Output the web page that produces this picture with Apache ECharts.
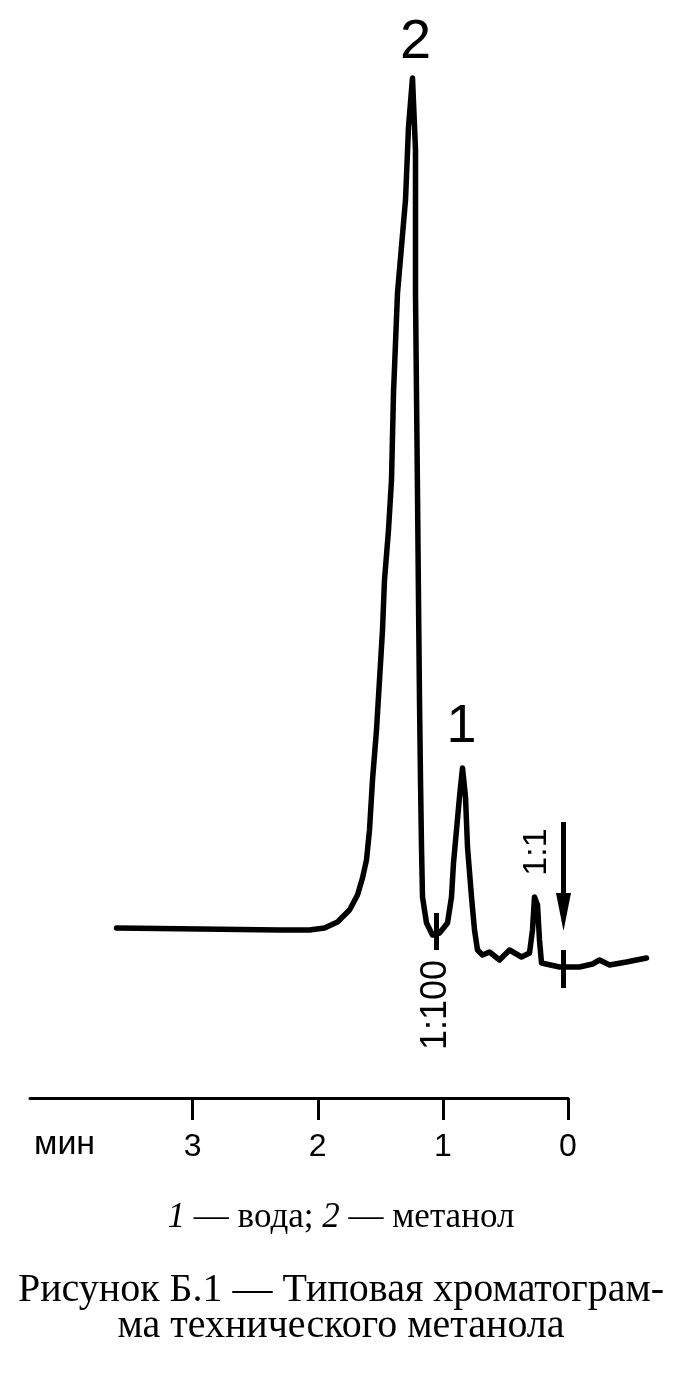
<!DOCTYPE html>
<html>
<head>
<meta charset="utf-8">
<script src="https://cdn.jsdelivr.net/npm/echarts@6/dist/echarts.min.js"></script>
<style>
  html, body { margin: 0; padding: 0; background: #fff; }
  #chart { width: 697px; height: 1382px; }
</style>
</head>
<body>
<div id="chart"></div>
<script>
// Retention time, min (axis runs right-to-left: 0 at right)
const timeMin = [3.608, 2.944, 2.304, 2.064, 1.944, 1.840, 1.744, 1.680, 1.640, 1.608,
  1.584, 1.560, 1.528, 1.504, 1.480, 1.464, 1.432, 1.408, 1.392, 1.360,
  1.296, 1.272, 1.240, 1.216, 1.216, 1.208, 1.200, 1.192, 1.184, 1.176,
  1.168, 1.160, 1.128, 1.080, 1.024, 0.960, 0.928, 0.912, 0.888, 0.864,
  0.840, 0.816, 0.800, 0.768, 0.744, 0.720, 0.680, 0.624, 0.544, 0.464,
  0.368, 0.304, 0.280, 0.264, 0.240, 0.224, 0.208, 0.064, -0.096, -0.200,
  -0.256, -0.336, -0.472, -0.632];
// Detector signal, arbitrary units
const signal = [17.0, 16.9, 16.8, 16.8, 17.0, 17.6, 18.8, 20.3, 22.0, 23.8,
  26.8, 31.8, 36.8, 41.8, 46.8, 51.8, 56.8, 61.8, 70.5, 80.5,
  89.8, 97.1, 102.0, 94.8, 80.5, 70.5, 60.5, 49.8, 39.8, 31.8,
  25.1, 20.1, 17.5, 16.3, 16.5, 17.5, 20.1, 23.5, 26.8, 30.1,
  33.0, 30.1, 25.1, 20.1, 16.8, 14.8, 14.3, 14.6, 13.8, 14.8,
  14.1, 14.5, 16.8, 20.1, 19.3, 15.8, 13.5, 13.1, 13.1, 13.4,
  13.8, 13.3, 13.6, 14.0];
const xTicks = [0, 1, 2, 3];
const axisUnit = 'мин';
// Peak labels
const peakNames = ['2', '1'];
const peakTimes = [1.240, 0.840];
const peakSignals = [102.0, 33.0];
// Attenuation marks
const attenNames = ['1:100', '1:1'];
const attenTimes = [1.048, 0.248];
const attenLabelSignals = [9.3, 24.6];
const attenTickTimes = [1.048, 0.032];
const attenTickTop = [18.5, 14.8];
const attenTickBottom = [14.8, 11.0];
// Injection arrow
const arrowTime = 0.032;
const arrowTop = 27.6;
const arrowShaftEnd = 19.5;
const arrowHeadCenter = 18.6;
// Captions
const legendText = '{i|1} — вода; {i|2} — метанол';
const captionLines = ['Рисунок Б.1 — Типовая хроматограм-', 'ма технического метанола'];

const SANS = 'Liberation Sans, Arial, sans-serif';
const SERIF = 'Liberation Serif, Times New Roman, serif';

const chart = echarts.init(document.getElementById('chart'), null, { renderer: 'canvas' });
const data = timeMin.map((t, i) => [t, signal[i]]);

const markLineData = attenTickTimes.map((t, i) => [
  { coord: [t, attenTickTop[i]] }, { coord: [t, attenTickBottom[i]] }
]);
markLineData.push([{ coord: [arrowTime, arrowTop] }, { coord: [arrowTime, arrowShaftEnd] }]);

const markPointData = [];
peakNames.forEach((n, i) => {
  markPointData.push({
    coord: [peakTimes[i], peakSignals[i]],
    symbolSize: 0,
    label: {
      show: true, formatter: n, position: 'inside',
      offset: i === 0 ? [3, -35] : [-1, -41],
      fontSize: i === 0 ? 56 : 54,
      fontFamily: SANS, color: '#000'
    }
  });
});
attenNames.forEach((n, i) => {
  markPointData.push({
    coord: [attenTimes[i], attenLabelSignals[i]],
    symbolSize: 0,
    label: {
      show: true, formatter: n, position: 'inside', rotate: 90,
      fontSize: i === 0 ? 36 : 34,
      fontFamily: SANS, color: '#000'
    }
  });
});
markPointData.push({
  coord: [arrowTime, arrowHeadCenter],
  symbol: 'triangle', symbolSize: [15, 38], symbolRotate: 180,
  itemStyle: { color: '#000' },
  label: { show: false }
});

chart.setOption({
  animation: false,
  backgroundColor: '#fff',
  grid: [
    { left: 30, right: 42, top: 48, bottom: 284, containLabel: false },
    { left: 30, right: 129, top: 48, bottom: 284, containLabel: false }
  ],
  xAxis: [
    { gridIndex: 0, type: 'value', inverse: true, min: -0.7, max: 4.3, show: false, splitLine: { show: false } },
    {
      gridIndex: 1, type: 'value', inverse: true, min: 0, max: 4.3,
      axisLine: { show: true, lineStyle: { color: '#000', width: 3 } },
      axisTick: { show: true, customValues: xTicks, length: 22, inside: false, lineStyle: { color: '#000', width: 3 } },
      axisLabel: { show: true, customValues: xTicks, margin: 33, fontSize: 32, color: '#000', fontFamily: SANS },
      splitLine: { show: false }
    }
  ],
  yAxis: [
    { gridIndex: 0, type: 'value', min: 0, max: 105, show: false, splitLine: { show: false } },
    { gridIndex: 1, type: 'value', min: 0, max: 105, show: false, splitLine: { show: false } }
  ],
  series: [{
    type: 'line', xAxisIndex: 0, yAxisIndex: 0, data: data, clip: false, smooth: false, showSymbol: false,
    lineStyle: { color: '#000', width: 5.5, join: 'round', cap: 'round' },
    markLine: {
      silent: true, symbol: ['none', 'none'],
      lineStyle: { color: '#000', width: 5, type: 'solid' },
      label: { show: false },
      data: markLineData
    },
    markPoint: { silent: true, data: markPointData }
  }],
  graphic: [
    { type: 'text', left: 34, top: 1128,
      style: { text: axisUnit, fontSize: 34, fill: '#000', fontFamily: SANS } },
    { type: 'text', x: 341, y: 1218,
      style: { text: legendText, fontSize: 35, fill: '#000', align: 'center', verticalAlign: 'middle',
        fontFamily: SERIF,
        rich: { i: { fontStyle: 'italic', fontSize: 35, fontFamily: SERIF } } } },
    { type: 'text', x: 341, y: 1290,
      style: { text: captionLines[0], fontSize: 40, fill: '#000', align: 'center', verticalAlign: 'middle',
        fontFamily: SERIF } },
    { type: 'text', x: 341, y: 1326,
      style: { text: captionLines[1], fontSize: 40, fill: '#000', align: 'center', verticalAlign: 'middle',
        fontFamily: SERIF } }
  ]
});
</script>
</body>
</html>
